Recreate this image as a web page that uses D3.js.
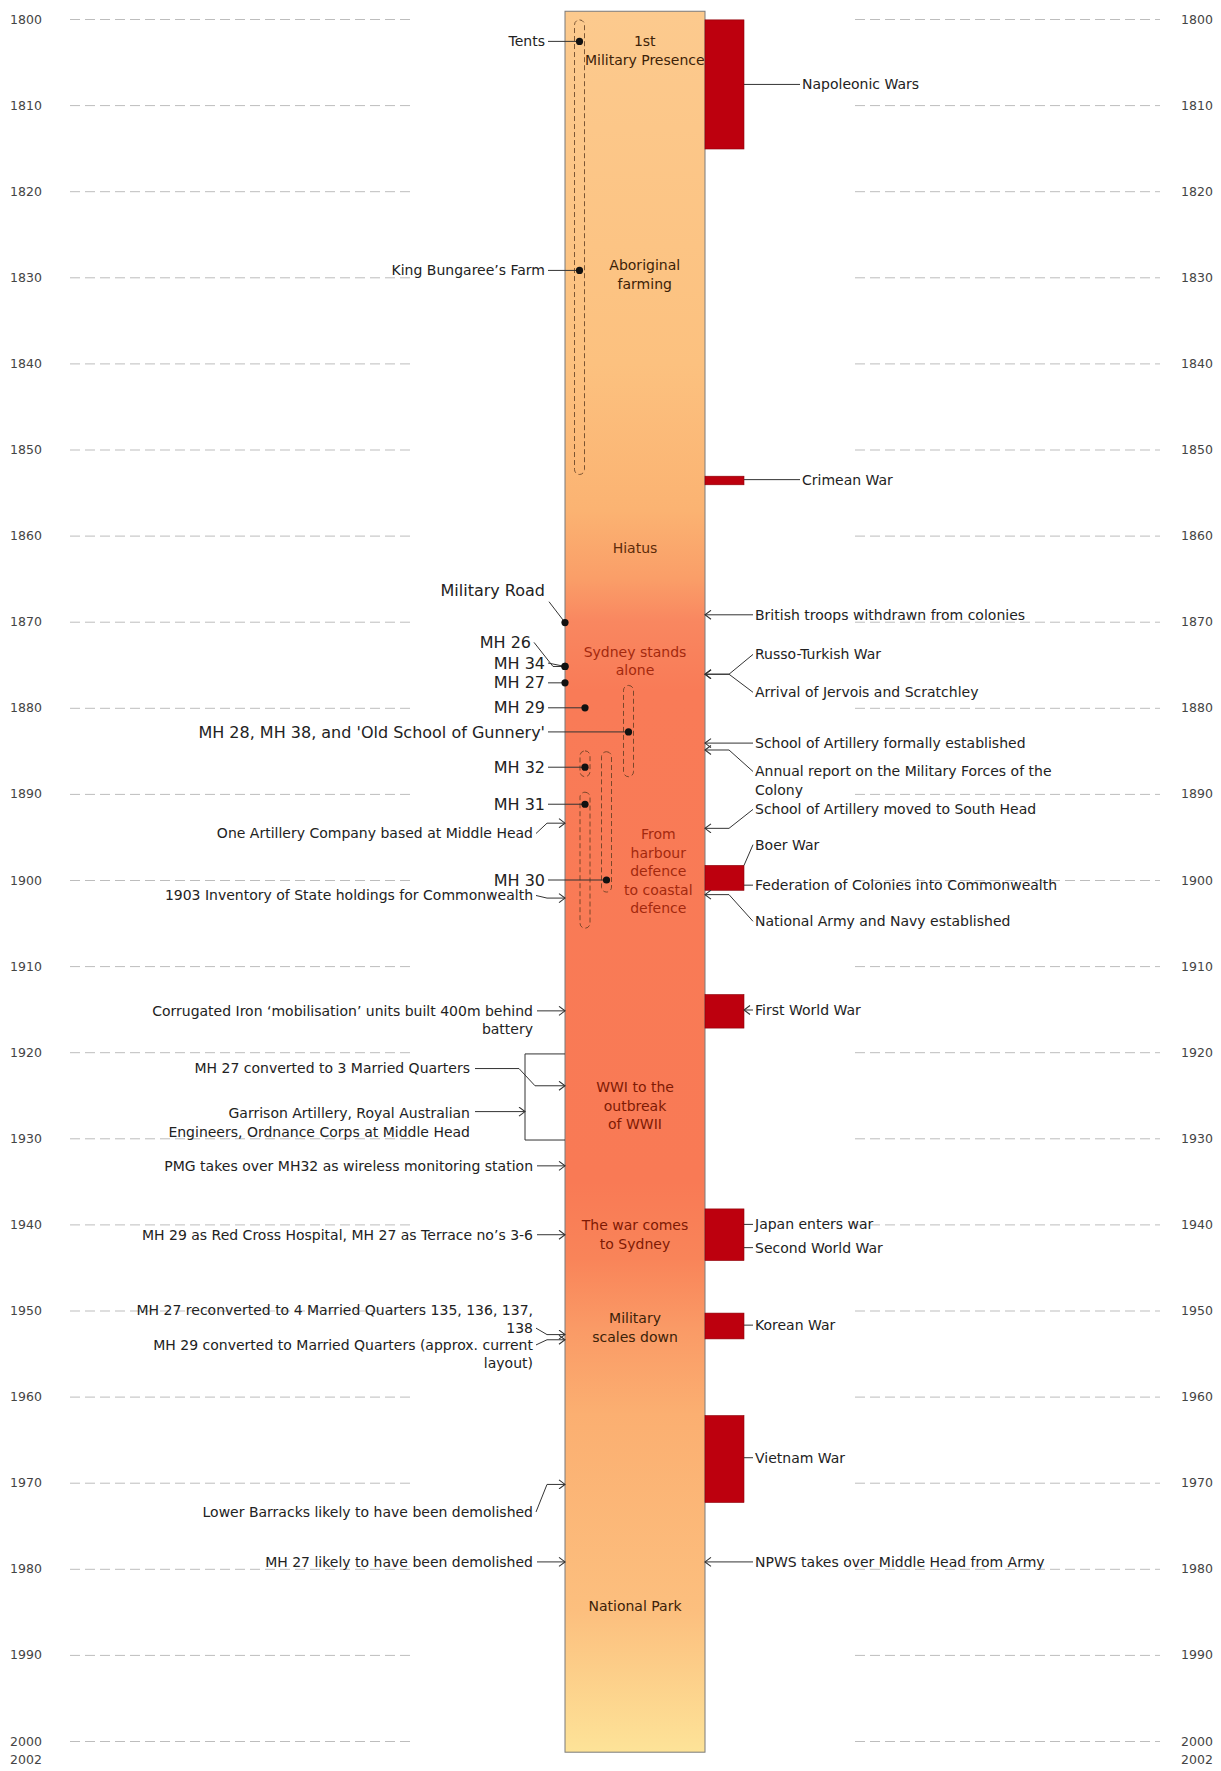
<!DOCTYPE html>
<html>
<head>
<meta charset="utf-8">
<script src="https://cdn.jsdelivr.net/npm/d3@7"></script>
<style>
  body { margin: 0; background: #fff; }
  svg { display: block; font-family: 'DejaVu Sans', Verdana, sans-serif; }
</style>
</head>
<body>
<svg id="chart"></svg>
<script>
const tickYears = [1800, 1810, 1820, 1830, 1840, 1850, 1860, 1870, 1880, 1890,
  1900, 1910, 1920, 1930, 1940, 1950, 1960, 1970, 1980, 1990, 2000];
const lastYearLabel = 2002;
const timelineSpan = [1799.1, 2001.3];

// [name, start, end]
const warSpans = [
  ['Napoleonic Wars', 1800.1, 1815.1],
  ['Crimean War', 1853.1, 1854.1],
  ['Boer War', 1898.3, 1901.2],
  ['First World War', 1913.3, 1917.2],
  ['Second World War', 1938.2, 1944.2],
  ['Korean War', 1950.3, 1953.3],
  ['Vietnam War', 1962.2, 1972.3]
];

// phases written inside the bar
const phases = [
  {lines: ['1st', 'Military Presence'], year: 1802.6, tone: 0},
  {lines: ['Aboriginal', 'farming'], year: 1828.6, tone: 0},
  {lines: ['Hiatus'], year: 1861.4, tone: 1},
  {lines: ['Sydney stands', 'alone'], year: 1873.5, tone: 2},
  {lines: ['From', 'harbour', 'defence', 'to coastal', 'defence'], year: 1894.7, tone: 2},
  {lines: ['WWI to the', 'outbreak', 'of WWII'], year: 1924.1, tone: 3},
  {lines: ['The war comes', 'to Sydney'], year: 1940.1, tone: 3},
  {lines: ['Military', 'scales down'], year: 1950.9, tone: 0},
  {lines: ['National Park'], year: 1984.3, tone: 0}
];

// periods of use (dashed capsules), lane = column inside the bar
const occupancy = [
  {lane: 1, start: 1800.1, end: 1852.9},
  {lane: 4, start: 1877.4, end: 1888.0},
  {lane: 2, start: 1885.0, end: 1888.0},
  {lane: 2, start: 1889.8, end: 1905.6},
  {lane: 3, start: 1885.1, end: 1901.4}
];

// buildings / sites (dots)
const buildings = [
  {name: 'Tents', year: 1802.6, lane: 1, labelYear: 1802.6},
  {name: 'King Bungaree\u2019s Farm', year: 1829.2, lane: 1, labelYear: 1829.2},
  {name: 'Military Road', year: 1870.1, lane: 0, labelYear: 1866.4},
  {name: 'MH 26', year: 1875.2, lane: 0, labelYear: 1872.4},
  {name: 'MH 34', year: 1875.2, lane: 0, labelYear: 1874.8},
  {name: 'MH 27', year: 1877.1, lane: 0, labelYear: 1877.1},
  {name: 'MH 29', year: 1880.0, lane: 2, labelYear: 1880.0},
  {name: 'MH 28, MH 38, and \'Old School of Gunnery\'', year: 1882.8, lane: 4, labelYear: 1882.8},
  {name: 'MH 32', year: 1886.9, lane: 2, labelYear: 1886.9},
  {name: 'MH 31', year: 1891.2, lane: 2, labelYear: 1891.2},
  {name: 'MH 30', year: 1900.0, lane: 3, labelYear: 1900.0}
];

// Middle Head events (left)
const siteEvents = [
  {lines: ['One Artillery Company based at Middle Head'], labelYear: 1894.6, year: 1893.4},
  {lines: ['1903 Inventory of State holdings for Commonwealth'], labelYear: 1901.8, year: 1902.1},
  {lines: ['Corrugated Iron \u2018mobilisation\u2019 units built 400m behind', 'battery'], labelYear: 1915.2, year: 1915.2},
  {lines: ['MH 27 converted to 3 Married Quarters'], labelYear: 1921.9, year: 1923.9, group: 'bracket'},
  {lines: ['Garrison Artillery, Royal Australian', 'Engineers, Ordnance Corps at Middle Head'], labelYear: 1927.1, year: 1926.9, group: 'bracket', stop: 'bracket'},
  {lines: ['PMG takes over MH32 as wireless monitoring station'], labelYear: 1933.2, year: 1933.2},
  {lines: ['MH 29 as Red Cross Hospital, MH 27 as Terrace no\u2019s 3-6'], labelYear: 1941.2, year: 1941.2},
  {lines: ['MH 27 reconverted to 4 Married Quarters 135, 136, 137,', '138'], labelYear: 1949.9, year: 1952.8},
  {lines: ['MH 29 converted to Married Quarters (approx. current', 'layout)'], labelYear: 1954.0, year: 1953.4},
  {lines: ['Lower Barracks likely to have been demolished'], labelYear: 1973.4, year: 1970.2},
  {lines: ['MH 27 likely to have been demolished'], labelYear: 1979.2, year: 1979.2}
];
const bracketSpan = [1920.2, 1930.2];

// wider world events (right); from = bar edge or war block
const worldEvents = [
  {lines: ['Napoleonic Wars'], labelYear: 1807.6, year: 1807.6, from: 'war', tip: 'long'},
  {lines: ['Crimean War'], labelYear: 1853.5, year: 1853.5, from: 'war', tip: 'long'},
  {lines: ['British troops withdrawn from colonies'], labelYear: 1869.2, year: 1869.2, from: 'bar', tip: 'arrow'},
  {lines: ['Russo-Turkish War'], labelYear: 1873.8, year: 1876.1, from: 'bar', tip: 'arrow'},
  {lines: ['Arrival of Jervois and Scratchley'], labelYear: 1878.2, year: 1876.1, from: 'bar', tip: 'arrow'},
  {lines: ['School of Artillery formally established'], labelYear: 1884.1, year: 1884.1, from: 'bar', tip: 'arrow'},
  {lines: ['Annual report on the Military Forces of the', 'Colony'], labelYear: 1887.4, year: 1884.9, from: 'bar', tip: 'arrow'},
  {lines: ['School of Artillery moved to South Head'], labelYear: 1891.8, year: 1894.0, from: 'bar', tip: 'arrow'},
  {lines: ['Boer War'], labelYear: 1895.9, year: 1898.3, from: 'war', tip: 'none'},
  {lines: ['Federation of Colonies into Commonwealth'], labelYear: 1900.6, year: 1900.6, from: 'war', tip: 'none'},
  {lines: ['National Army and Navy established'], labelYear: 1904.8, year: 1901.7, from: 'bar', tip: 'arrow'},
  {lines: ['First World War'], labelYear: 1915.1, year: 1915.1, from: 'war', tip: 'arrow'},
  {lines: ['Japan enters war'], labelYear: 1940.0, year: 1940.0, from: 'war', tip: 'none'},
  {lines: ['Second World War'], labelYear: 1942.7, year: 1942.7, from: 'war', tip: 'none'},
  {lines: ['Korean War'], labelYear: 1951.7, year: 1951.7, from: 'war', tip: 'none'},
  {lines: ['Vietnam War'], labelYear: 1967.1, year: 1967.1, from: 'war', tip: 'none'},
  {lines: ['NPWS takes over Middle Head from Army'], labelYear: 1979.2, year: 1979.2, from: 'bar', tip: 'arrow'}
];

// ---- layout ----
const width = 1221;
const height = 1771;
const barLeft = 565;
const barRight = 705;
const warRight = 744;
const lineH = 18.5;

const svg = d3.select('#chart')
  .attr('width', width)
  .attr('height', height);

const y = d3.scaleLinear()
  .domain([1800, 2000])
  .range([19, 1741]);

const laneX = d3.scaleOrdinal()
  .domain([0, 1, 2, 3, 4])
  .range([565, 579.5, 585, 606.5, 628.5]);

const line = d3.line();
const defs = svg.append('defs');

defs.append('marker')
  .attr('id', 'chev')
  .attr('viewBox', '-8 -5 9 10')
  .attr('refX', 0)
  .attr('refY', 0)
  .attr('markerWidth', 9)
  .attr('markerHeight', 10)
  .attr('markerUnits', 'userSpaceOnUse')
  .attr('orient', 'auto-start-reverse')
  .append('path')
  .attr('d', 'M-6,-4.5L0,0L-6,4.5')
  .attr('fill', 'none')
  .attr('stroke', '#333')
  .attr('stroke-width', 1.1);

// bar gradient
const grad = defs.append('linearGradient')
  .attr('id', 'barGrad')
  .attr('gradientUnits', 'userSpaceOnUse')
  .attr('x1', 0).attr('x2', 0)
  .attr('y1', y(timelineSpan[0]))
  .attr('y2', y(timelineSpan[1]));
const stops = [[1799, '#fcca8e'], [1840, '#fcc17f'], [1857, '#fbb372'], [1865, '#fa9e68'],
  [1870, '#f98760'], [1878, '#f97b57'], [1935, '#f97a55'], [1944, '#f98459'],
  [1952, '#fa9a66'], [1962, '#fbaf71'], [1985, '#fcbf7e'], [2001.3, '#fde398']];
const span = timelineSpan[1] - timelineSpan[0];
stops.forEach(([yr, c]) => {
  grad.append('stop')
    .attr('offset', Math.max(0, Math.min(1, (yr - timelineSpan[0]) / span)))
    .attr('stop-color', c);
});

defs.append('clipPath').attr('id', 'barClip')
  .append('rect')
  .attr('x', barLeft).attr('width', barRight - barLeft)
  .attr('y', y(timelineSpan[0])).attr('height', y(timelineSpan[1]) - y(timelineSpan[0]));

// Dashed grid, left and right
function grid(x0, x1) {
  const g = svg.append('g')
    .attr('transform', `translate(${x0}, 0)`)
    .call(d3.axisRight(y).tickValues(tickYears).tickSize(x1 - x0).tickFormat(''));
  g.select('.domain').remove();
  g.selectAll('line')
    .attr('stroke', '#bdbdbd')
    .attr('stroke-dasharray', '10,5');
}
grid(70, 415);
grid(855, 1160);

// Year labels both sides
function yearAxis(x) {
  const g = svg.append('g')
    .attr('transform', `translate(${x}, 0)`)
    .call(d3.axisLeft(y).tickValues([...tickYears, lastYearLabel]).tickSize(0).tickFormat(d3.format('d')));
  g.select('.domain').remove();
  g.selectAll('text')
    .attr('x', 0)
    .attr('text-anchor', 'middle')
    .attr('font-family', 'DejaVu Sans, sans-serif')
    .attr('font-size', 12.5)
    .attr('fill', '#444');
  g.selectAll('.tick')
    .filter((d) => d === lastYearLabel)
    .attr('transform', `translate(0, ${y(lastYearLabel) + 2})`);
}
yearAxis(26);
yearAxis(1197);

// Main bar
svg.append('rect')
  .attr('x', barLeft)
  .attr('width', barRight - barLeft)
  .attr('y', y(timelineSpan[0]))
  .attr('height', y(timelineSpan[1]) - y(timelineSpan[0]))
  .attr('fill', 'url(#barGrad)')
  .attr('stroke', '#7a7a7a')
  .attr('stroke-width', 1);

// War blocks
svg.selectAll('rect.war')
  .data(warSpans)
  .enter()
  .append('rect')
  .attr('class', 'war')
  .attr('x', barRight)
  .attr('width', warRight - barRight)
  .attr('y', (d) => y(d[1]))
  .attr('height', (d) => Math.max(2, y(d[2]) - y(d[1])))
  .attr('fill', '#bd000e')
  .attr('stroke', '#8c0008')
  .attr('stroke-width', 0.6);

// Occupancy capsules
svg.selectAll('rect.occ')
  .data(occupancy)
  .enter()
  .append('rect')
  .attr('class', 'occ')
  .attr('x', (d) => laneX(d.lane) - 5)
  .attr('width', 10)
  .attr('y', (d) => y(d.start))
  .attr('height', (d) => y(d.end) - y(d.start))
  .attr('rx', 5)
  .attr('fill', 'none')
  .attr('stroke', '#5a3a20')
  .attr('stroke-width', 0.8)
  .attr('stroke-dasharray', '5,3');

// Phase labels inside the bar (centred in the free space right of any capsule)
const toneColor = ['#3c2208', '#5e2c0a', '#a3290e', '#7e1a04'];
const phaseG = svg.append('g').attr('clip-path', 'url(#barClip)');
phases.forEach((p) => {
  const yEnd = p.year + ((p.lines.length - 1) * lineH) / 8.61;
  const busy = occupancy.filter((o) => o.start < yEnd && o.end > p.year);
  const left = busy.length ? d3.max(busy, (o) => laneX(o.lane) + 5) : barLeft;
  const cx = (left + barRight) / 2;
  const t = phaseG.append('text')
    .attr('text-anchor', 'middle')
    .attr('font-size', 14)
    .attr('fill', toneColor[p.tone]);
  p.lines.forEach((l, i) => {
    t.append('tspan')
      .attr('x', cx)
      .attr('y', y(p.year) + i * lineH)
      .attr('dy', '0.35em')
      .text(l);
  });
});

function drawLines(anchorX, yTop, lines, anchor, size) {
  const t = svg.append('text')
    .attr('text-anchor', anchor)
    .attr('font-size', size)
    .attr('fill', '#222');
  lines.forEach((l, i) => {
    t.append('tspan')
      .attr('x', anchorX)
      .attr('y', yTop + i * lineH)
      .attr('dy', '0.35em')
      .text(l);
  });
}

function nearestLineY(lines, labelYear, target) {
  const ys = lines.map((_, i) => y(labelYear) + i * lineH);
  return ys.reduce((a, b) => (Math.abs(b - target) < Math.abs(a - target) ? b : a));
}

// Buildings: leaders and dots
buildings.forEach((b) => {
  const gap = b.year - b.labelYear;
  const bent = gap > 0.5;
  const far = gap > 3;
  const textEnd = bent && !far ? 531 : 545;
  const size = b.year < 1850 ? 14 : 16;
  const ly = y(b.labelYear);
  const ty = y(b.year);
  let pts;
  if (far) {
    pts = [[textEnd + 4, ly + 11], [laneX(b.lane), ty]];
  } else if (bent) {
    pts = [[textEnd + 3, ly], [553, ty], [laneX(b.lane), ty]];
  } else {
    pts = [[textEnd + 3, ly], [laneX(b.lane), ty]];
  }
  svg.append('path')
    .attr('d', line(pts))
    .attr('fill', 'none')
    .attr('stroke', '#333')
    .attr('stroke-width', 1);
  drawLines(textEnd, ly, [b.name], 'end', size);
});
svg.selectAll('circle.site')
  .data(buildings)
  .enter()
  .append('circle')
  .attr('class', 'site')
  .attr('cx', (d) => laneX(d.lane))
  .attr('cy', (d) => y(d.year))
  .attr('r', 3.6)
  .attr('fill', '#111');

// Bracket for the inter-war period
const bx = 525;
svg.append('path')
  .attr('d', line([[barLeft, y(bracketSpan[0])], [bx, y(bracketSpan[0])],
    [bx, y(bracketSpan[1])], [barLeft, y(bracketSpan[1])]]))
  .attr('fill', 'none')
  .attr('stroke', '#333')
  .attr('stroke-width', 1);

// Middle Head events (left)
siteEvents.forEach((e) => {
  const ty = y(e.year);
  const inBracket = e.group === 'bracket';
  const textEnd = inBracket ? 470 : 533;
  const ly = nearestLineY(e.lines, e.labelYear, ty);
  let pts;
  if (inBracket && e.stop === 'bracket') {
    pts = [[textEnd + 5, ty], [bx, ty]];
  } else if (inBracket) {
    pts = [[textEnd + 5, ly], [519, ly], [535, ty], [barLeft, ty]];
  } else if (Math.abs(ly - ty) > 1.5) {
    pts = [[textEnd + 3, ly], [547, ty], [barLeft, ty]];
  } else {
    pts = [[textEnd + 4, ty], [barLeft, ty]];
  }
  svg.append('path')
    .attr('d', line(pts))
    .attr('fill', 'none')
    .attr('stroke', '#333')
    .attr('stroke-width', 1)
    .attr('marker-end', 'url(#chev)');
  drawLines(textEnd, y(e.labelYear), e.lines, 'end', 14);
});

// World events (right)
worldEvents.forEach((e) => {
  const sx = e.from === 'bar' ? barRight : warRight;
  const tx = e.tip === 'long' ? 802 : 755;
  const ty = y(e.year);
  const ly = nearestLineY(e.lines, e.labelYear, ty);
  const pts = [[sx, ty]];
  if (Math.abs(ly - ty) > 1.5) {
    if (e.from === 'bar') pts.push([729, ty]);
    pts.push([tx - 2, ly]);
  } else {
    pts.push([tx - 2, ty]);
  }
  const p = svg.append('path')
    .attr('d', line(pts))
    .attr('fill', 'none')
    .attr('stroke', '#333')
    .attr('stroke-width', 1);
  if (e.tip === 'arrow') p.attr('marker-start', 'url(#chev)');
  drawLines(tx, y(e.labelYear), e.lines, 'start', 14);
});
</script>
</body>
</html>
